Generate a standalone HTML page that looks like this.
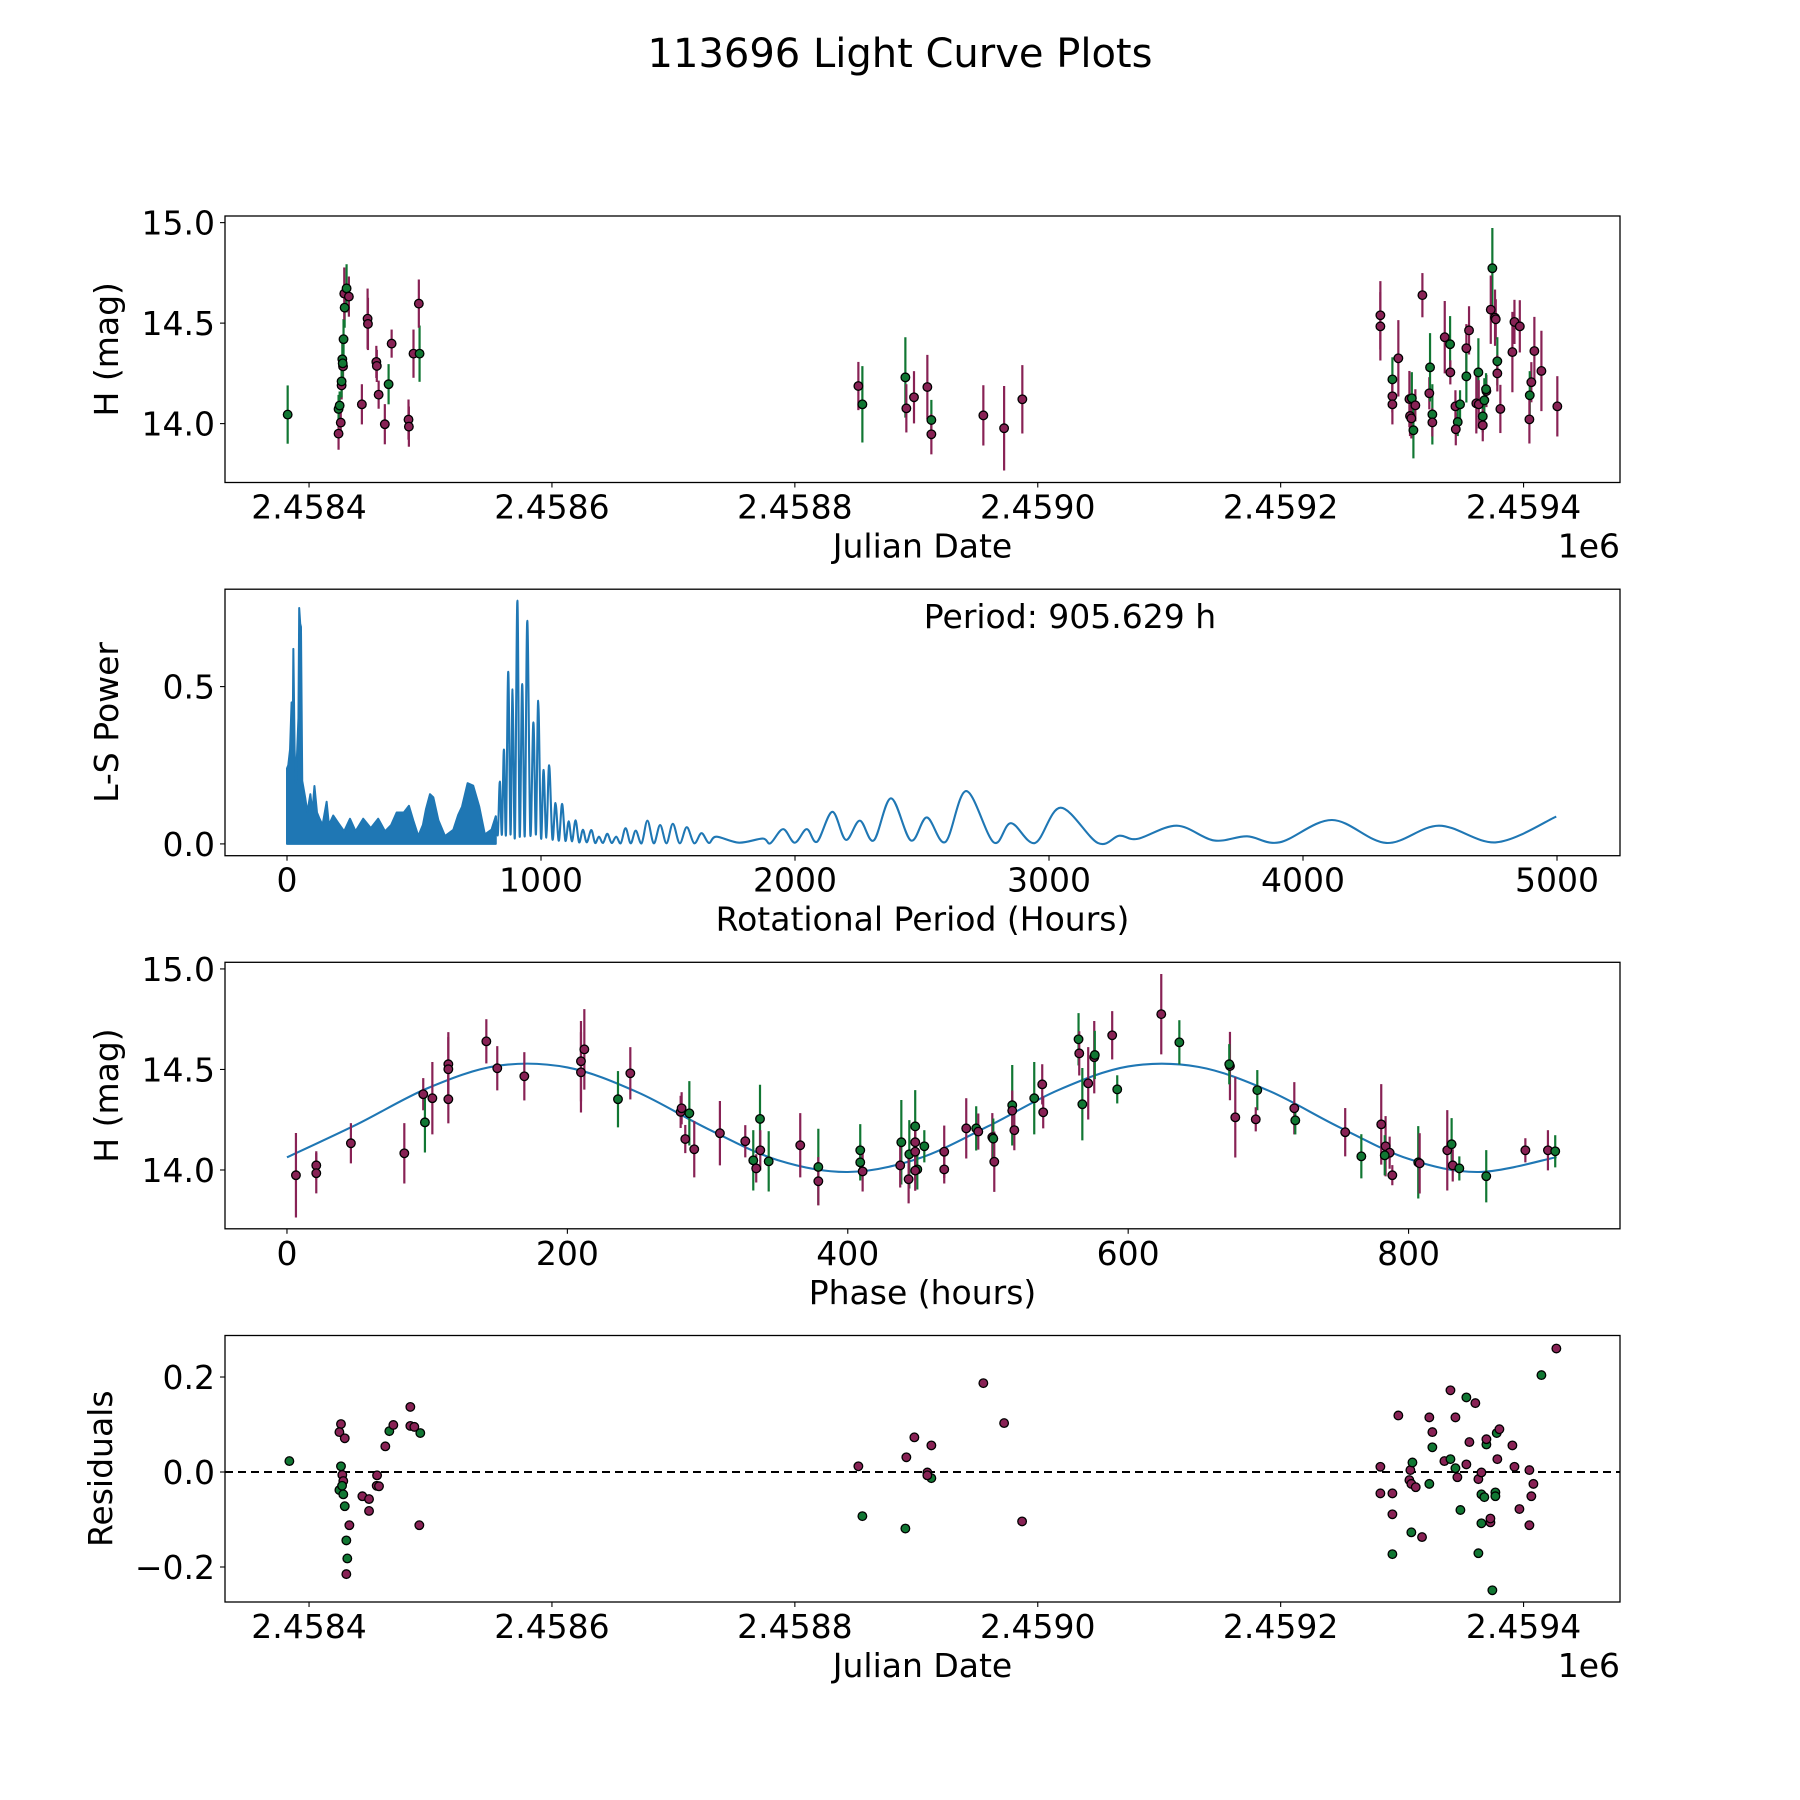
<!DOCTYPE html>
<html><head><meta charset="utf-8">
<style>
html,body{margin:0;padding:0;background:#fff;}
svg{display:block;font-family:"DejaVu Sans","Liberation Sans",sans-serif;}
</style></head>
<body>
<svg id="fig" width="1800" height="1800" viewBox="0 0 1800 1800" xmlns="http://www.w3.org/2000/svg">
<rect width="1800" height="1800" fill="#fff"/>
<text x="900" y="67" font-size="40" text-anchor="middle">113696 Light Curve Plots</text>
</svg>
<script>
// ---------- Data: panel 1 (light curve) ----------
const jd = [2458382.4,2458424.3,2458424.3,2458425.2,2458426.1,2458426.8,2458426.8,2458427.4,2458428.0,2458427.7,2458428.4,2458429.3,2458429.0,2458430.9,2458432.8,2458443.5,2458448.2,2458448.5,2458455.4,2458455.8,2458457.3,2458462.4,2458465.5,2458468.0,2458481.9,2458482.2,2458486.0,2458491.0,2458490.4,
2458852.3,2458855.6,2458891.0,2458891.8,2458898.1,2458909.1,2458912.4,2458912.4,2458955.2,2458972.3,2458987.3,
2459282.1,2459282.1,2459292.0,2459292.0,2459292.0,2459296.9,2459306.0,2459308.0,2459306.5,2459307.6,2459309.3,2459310.9,2459316.7,2459322.4,2459323.0,2459324.9,2459324.9,2459335.1,2459339.5,2459339.7,2459343.9,2459345.8,2459344.2,2459347.7,2459352.9,2459355.1,2459352.9,2459362.8,2459361.1,2459363.1,2459367.7,2459369.4,2459369.1,2459366.4,2459366.4,2459374.3,2459373.0,2459376.5,2459377.1,2459378.4,2459378.4,2459380.9,2459390.8,2459392.5,2459396.9,2459406.4,2459405.1,2459404.8,2459408.9,2459414.7,2459427.8];
const mag = [14.045,13.95,14.073,14.09,14.005,14.19,14.21,14.32,14.285,14.30,14.42,14.577,14.647,14.673,14.632,14.096,14.522,14.496,14.307,14.287,14.144,13.997,14.196,14.398,14.02,13.985,14.348,14.348,14.597,
14.187,14.096,14.23,14.076,14.131,14.182,14.018,13.947,14.041,13.977,14.121,
14.539,14.484,14.22,14.136,14.096,14.325,14.122,14.126,14.038,14.026,13.967,14.091,14.639,14.151,14.28,14.046,14.006,14.43,14.395,14.255,14.086,14.008,13.972,14.096,14.375,14.464,14.235,14.255,14.101,14.096,14.116,14.162,14.171,14.036,13.992,14.773,14.567,14.527,14.519,14.31,14.25,14.073,14.356,14.506,14.484,14.206,14.141,14.021,14.361,14.262,14.086];
const magErr = [0.145,0.08,0.07,0.07,0.07,0.07,0.08,0.1,0.1,0.08,0.1,0.1,0.13,0.12,0.1,0.1,0.15,0.13,0.08,0.08,0.07,0.1,0.1,0.07,0.1,0.1,0.12,0.14,0.12,
0.12,0.19,0.2,0.12,0.13,0.16,0.1,0.1,0.15,0.21,0.17,
0.17,0.17,0.11,0.08,0.1,0.19,0.14,0.13,0.1,0.1,0.14,0.08,0.11,0.08,0.17,0.15,0.07,0.18,0.14,0.06,0.08,0.07,0.08,0.07,0.12,0.12,0.13,0.17,0.15,0.12,0.11,0.08,0.08,0.08,0.08,0.2,0.17,0.14,0.1,0.12,0.09,0.12,0.2,0.11,0.13,0.1,0.12,0.12,0.17,0.2,0.15];
const band = "GMGGMMGGMGGGMGMMMMMMMMGMMMMGM"+"MGGMMMGMMMM"+"MMGMMMMGMMGMMMGGMMGMMGMGMMGGMMGMGGMGMMMGMMMMMMGMMMM";

// ---------- Data: panel 2 (periodogram) ----------
const denseP   = [0,5,12,18,22,25,30,35,45,48,52,55,60,72,80,92,100,108,118,128,140,156,165,182,203,225,248,270,300,330,359,386,410,432,460,480,497,517,535,547,563,576,596,622,655,674,689,711,733,757,779,805,822];
const densePow = [0.24,0.25,0.30,0.45,0.30,0.62,0.30,0.19,0.40,0.75,0.70,0.69,0.20,0.145,0.10,0.158,0.10,0.184,0.10,0.08,0.06,0.134,0.06,0.09,0.065,0.04,0.08,0.04,0.08,0.05,0.08,0.04,0.06,0.10,0.10,0.121,0.075,0.025,0.06,0.11,0.158,0.148,0.075,0.025,0.045,0.092,0.118,0.193,0.185,0.118,0.03,0.045,0.088];
const oscP   = [822,830,838,846,854,862,871,880,888,897,907,916,926,936,946,958,970,980,989,1000,1010,1021,1032,1045,1057,1070,1083,1096,1109,1122,1136,1150,1165,1180,1198,1213,1228,1244,1261,1278,1296,1314,1333,1353,1373,1396,1419,1444,1469,1494,1519,1546,1574,1603,1632,1661,1690,1780,1873,1903,1953,1999,2046,2087,2147,2200,2255,2310,2378,2456,2519,2592,2674,2782,2850,2945,3046,3192,3277,3348,3503,3649,3780,3908,4114,4328,4535,4761,4997];
const oscPow = [0.088,0.03,0.198,0.03,0.30,0.03,0.547,0.03,0.491,0.02,0.773,0.025,0.508,0.025,0.709,0.03,0.386,0.03,0.455,0.02,0.235,0.02,0.25,0.015,0.13,0.01,0.127,0.01,0.072,0.008,0.075,0.005,0.045,0.005,0.044,0.003,0.023,0.003,0.032,0.003,0.023,0.002,0.05,0.002,0.042,0.002,0.074,0.002,0.06,0.002,0.064,0.002,0.053,0.002,0.034,0.003,0.023,0.004,0.017,0.002,0.047,0.004,0.047,0.007,0.102,0.013,0.074,0.011,0.145,0.011,0.084,0.006,0.168,0.005,0.066,0.003,0.115,0.003,0.026,0.016,0.058,0.011,0.024,0.005,0.076,0.003,0.058,0.005,0.087];
const periodLabel = "Period: 905.629 h";

// ---------- Data: panel 3 (phased) ----------
const phase = [6.4,20.9,20.9,45.6,83.7,97.2,98.4,103.7,115.1,115.1,115.1,142.2,150,169.3,209.7,212.1,209.7,236.1,244.9,280.8,281.5,287,284.1,290.5,308.8,
326.9,332.6,334.7,337.4,337.6,343.6,366.1,379,379,408.9,408.9,410.6,438.2,437.4,443.9,443.4,448.1,448.1,448.1,449.6,448.1,454.6,468.8,468.8,484.5,491.6,493.1,503.1,503.8,504.5,517.3,517.3,518.8,533,538.7,539.4,564.6,565.1,567.3,571.5,575.8,576.2,588.6,592.2,623.6,636.5,
672.6,672.1,676.4,692.1,691,718.5,719.2,754.8,766.3,780.5,783.6,786.5,783,788.4,806.9,807.9,827.6,830.7,831.5,836.2,855.4,883.3,899.4,904.6];
const phMag = [13.974,14.023,13.984,14.133,14.083,14.377,14.237,14.357,14.526,14.501,14.352,14.64,14.506,14.466,14.541,14.6,14.486,14.352,14.481,14.289,14.307,14.282,14.154,14.103,14.183,
14.143,14.048,14.008,14.254,14.098,14.043,14.123,14.015,13.944,14.098,14.038,13.993,14.138,14.023,14.078,13.954,14.217,14.138,14.091,14.003,13.997,14.118,14.091,14.003,14.207,14.207,14.191,14.163,14.156,14.041,14.322,14.295,14.198,14.357,14.426,14.287,14.65,14.58,14.327,14.431,14.561,14.572,14.67,14.401,14.775,14.635,
14.517,14.526,14.262,14.397,14.252,14.307,14.247,14.188,14.068,14.227,14.118,14.086,14.073,13.974,14.038,14.033,14.098,14.128,14.023,14.008,13.969,14.098,14.098,14.093];
const phErr = [0.21,0.07,0.1,0.1,0.15,0.08,0.15,0.18,0.16,0.16,0.12,0.11,0.11,0.12,0.2,0.2,0.2,0.14,0.13,0.08,0.08,0.16,0.07,0.14,0.16,
0.08,0.15,0.07,0.17,0.1,0.15,0.16,0.19,0.12,0.13,0.09,0.1,0.21,0.11,0.17,0.12,0.18,0.1,0.14,0.1,0.1,0.08,0.13,0.07,0.15,0.11,0.09,0.12,0.1,0.15,0.2,0.1,0.1,0.18,0.1,0.08,0.13,0.11,0.18,0.18,0.18,0.12,0.12,0.07,0.2,0.11,
0.17,0.1,0.2,0.1,0.06,0.13,0.07,0.12,0.11,0.2,0.15,0.08,0.1,0.05,0.18,0.15,0.2,0.13,0.08,0.06,0.13,0.06,0.1,0.08];
const phBand = "MMMMMMGMMMMMMMMMMGMMMGMMM"+"MGMGMGMGMGGMGMGMGMMGMGMMMGMMGMGMMGMMGMGMMGMGMGMGM"+"GMMGMGMMMGMGMMGMGGMMGGMM";
const modelPh  = [0,50,100,150,200,250,300,350,400,450,500,550,600,650,700,750,800,850,905.6];
const modelMag = [14.063,14.227,14.406,14.518,14.510,14.387,14.205,14.049,13.99,14.056,14.217,14.397,14.515,14.513,14.395,14.215,14.055,13.99,14.064];

// ---------- Data: panel 4 (residuals) ----------
const resJd = [2458383.8,2458426.3,2458425.0,2458429.4,2458426.3,2458427.4,2458428.2,2458425.0,2458427.2,2458428.2,2458429.4,2458433.2,2458430.7,2458431.5,2458430.7,2458443.9,2458449.4,2458449.4,2458456.0,2458455.7,2458457.6,2458462.8,2458466.1,2458469.4,2458483.4,2458483.4,2458486.7,2458491.6,2458490.8,
2458852.3,2458855.6,2458891.8,2458891.0,2458898.4,2458909.1,2458912.4,2458909.1,2458912.4,2458955.2,2458972.3,2458987.1,
2459282.1,2459282.1,2459292.0,2459292.0,2459292.0,2459296.9,2459306.8,2459308.5,2459306.0,2459307.6,2459311.2,2459307.6,2459316.4,2459322.4,2459324.9,2459324.9,2459322.4,2459334.8,2459339.8,2459339.8,2459343.9,2459343.9,2459345.5,2459348.0,2459352.9,2459360.3,2459355.4,2459352.9,2459362.8,2459365.3,2459365.3,2459367.7,2459365.3,2459362.8,2459369.4,2459369.4,2459372.7,2459372.7,2459374.3,2459377.9,2459380.1,2459378.4,2459376.8,2459376.8,2459390.8,2459392.5,2459396.6,2459404.8,2459408.1,2459406.4,2459404.8,2459414.7,2459427.0];
const resVal = [0.023,0.101,0.084,0.071,0.012,-0.006,-0.019,-0.038,-0.029,-0.047,-0.072,-0.112,-0.144,-0.182,-0.215,-0.051,-0.057,-0.082,-0.007,-0.029,-0.030,0.054,0.086,0.099,0.137,0.097,0.095,0.082,-0.112,
0.012,-0.093,0.031,-0.119,0.073,-0.001,-0.013,-0.007,0.056,0.187,0.103,-0.104,
0.011,-0.045,-0.045,-0.089,-0.173,0.119,0.004,0.020,-0.017,-0.025,-0.032,-0.127,-0.137,0.115,0.084,0.052,-0.025,0.023,0.027,0.172,0.115,0.008,-0.011,-0.080,0.157,0.145,0.063,0.016,-0.015,-0.001,-0.047,-0.053,-0.108,-0.171,0.058,0.069,-0.106,-0.098,-0.249,0.082,0.090,0.027,-0.043,-0.051,0.056,0.011,-0.078,0.004,-0.025,-0.051,-0.112,0.204,0.260];
const resBand = "GMMMGMMGGGGMGGMMMMMMMMGMMMMGM"+"MGMGMMGMMMMM"+"MMMMGMMGMMMGMMMGGMGMMGMGGMMMMMGGGGGMMMGGMMGGMMMMMMMGMM";

const xTicksJd = [2458400,2458600,2458800,2459000,2459200,2459400];
const xTickLabelsJd = ["2.4584","2.4586","2.4588","2.4590","2.4592","2.4594"];
const yTicksMag = [14.0,14.5,15.0];
const yTickLabelsMag = ["14.0","14.5","15.0"];
const xTicksP = [0,1000,2000,3000,4000,5000];
const yTicksPow = [0.0,0.5];
const yTickLabelsPow = ["0.0","0.5"];
const xTicksPh = [0,200,400,600,800];
const yTicksRes = [-0.2,0.0,0.2];
const yTickLabelsRes = ["\u22120.2","0.0","0.2"];

// ---------- rendering ----------
const NS = "http://www.w3.org/2000/svg";
const svg = document.getElementById("fig");
const COL = {M:"#882255", G:"#117733"};
function mk(tag, attrs, parent){
  const e = document.createElementNS(NS, tag);
  for (const k in attrs) e.setAttribute(k, attrs[k]);
  (parent||svg).appendChild(e);
  return e;
}
function lin(d0,d1,r0,r1){ return v => r0 + (v-d0)/(d1-d0)*(r1-r0); }
const L = 225, W = 1395, H = 266.5;
const tops = [216, 589.2, 962.3, 1335.5];
const FS = 33;

function axesFrame(i, name){
  const g = mk("g", {});
  
  
  return g;
}
function frameRect(g, top){
  const r = mk("rect", {x:L, y:top, width:W, height:H, fill:"none", stroke:"#000", "stroke-width":1.3}, g);
  
  
}
function xTicks(g, top, sx, ticks, labels){
  ticks.forEach((t,i)=>{
    const x = sx(t), y = top+H;
    mk("line", {x1:x, x2:x, y1:y, y2:y+5, stroke:"#000", "stroke-width":1.1}, g);
    const tx = mk("text", {x:x, y:y+36, "font-size":FS, "text-anchor":"middle"}, g);
    
    
    tx.textContent = labels[i];
  });
}
function yTicks(g, sy, ticks, labels){
  ticks.forEach((t,i)=>{
    const y = sy(t);
    mk("line", {x1:L-5, x2:L, y1:y, y2:y, stroke:"#000", "stroke-width":1.1}, g);
    const tx = mk("text", {x:L-10, y:y+12, "font-size":FS, "text-anchor":"end"}, g);
    
    
    tx.textContent = labels[i];
  });
}
function labels(g, top, xl, yl, yx, showExp){
  const a = mk("text", {x:L+W/2, y:top+H+75, "font-size":FS, "text-anchor":"middle"}, g);
  
  
  a.textContent = xl;
  const cy = top+H/2;
  const b = mk("text", {x:yx, y:cy, "font-size":FS, "text-anchor":"middle", transform:`rotate(-90 ${yx} ${cy})`}, g);
  
  
  b.textContent = yl;
  if (showExp){
    const c = mk("text", {x:L+W, y:top+H+75, "font-size":FS, "text-anchor":"end"}, g);
    
    
    c.textContent = "1e6";
  }
}
function clip(id, top){
  const cp = mk("clipPath", {id:id});
  mk("rect", {x:L, y:top, width:W, height:H}, cp);
}
function catmull(pts){
  let d = `M${pts[0][0]},${pts[0][1]}`;
  for (let i=0;i<pts.length-1;i++){
    const p0 = pts[i-1]||pts[i], p1 = pts[i], p2 = pts[i+1], p3 = pts[i+2]||p2;
    const c1x = p1[0]+(p2[0]-p0[0])/6, c1y = p1[1]+(p2[1]-p0[1])/6;
    const c2x = p2[0]-(p3[0]-p1[0])/6, c2y = p2[1]-(p3[1]-p1[1])/6;
    d += ` C${c1x},${c1y} ${c2x},${c2y} ${p2[0]},${p2[1]}`;
  }
  return d;
}
function scatter(g, xs, ys, errs, bands, sx, sy, nameBar, nameDot){
  if (errs){
    xs.forEach((v,i)=>{
      const ln = mk("line", {x1:sx(v), x2:sx(v), y1:sy(ys[i]-errs[i]), y2:sy(ys[i]+errs[i]), stroke:COL[bands[i]], "stroke-width":2.2}, g);
      
      
    });
  }
  xs.forEach((v,i)=>{
    const c = mk("circle", {cx:sx(v), cy:sy(ys[i]), r:4.3, fill:COL[bands[i]], stroke:"#000", "stroke-width":1.3}, g);
    
    
  });
}

// Panel 1
{
  const top = tops[0];
  const g = axesFrame(0, 'light-curve-panel');
  const sx = lin(2458330.8, 2459479.4, L, L+W);
  const sy = lin(13.707, 15.033, top+H, top);
  clip("c1", top);
  const pg = mk("g", {"clip-path":"url(#c1)"}, g);
  scatter(pg, jd, mag, magErr, band, sx, sy, 'magnitude-error-bar', 'magnitude-point');
  frameRect(g, top);
  xTicks(g, top, sx, xTicksJd, xTickLabelsJd);
  yTicks(g, sy, yTicksMag, yTickLabelsMag);
  labels(g, top, "Julian Date", "H (mag)", 118, true);
}
// Panel 2
{
  const top = tops[1];
  const g = axesFrame(1, 'periodogram-panel');
  const sx = lin(-244.1, 5248, L, L+W);
  const sy = lin(-0.0375, 0.8096, top+H, top);
  clip("c2", top);
  const pg = mk("g", {"clip-path":"url(#c2)"}, g);
  let d = `M${sx(denseP[0])},${sy(0)}`;
  denseP.forEach((p,i)=>{ d += ` L${sx(p)},${sy(densePow[i])}`; });
  d += ` L${sx(denseP[denseP.length-1])},${sy(0)} Z`;
  const dense = mk("path", {d:d, fill:"#1f77b4", stroke:"#1f77b4", "stroke-width":2, "stroke-linejoin":"round"}, pg);
  
  
  const pts = oscP.map((p,i)=>[sx(p), sy(oscPow[i])]);
  const line = mk("path", {d:catmull(pts), fill:"none", stroke:"#1f77b4", "stroke-width":2.1}, pg);
  
  
  frameRect(g, top);
  xTicks(g, top, sx, xTicksP, xTicksP.map(String));
  yTicks(g, sy, yTicksPow, yTickLabelsPow);
  labels(g, top, "Rotational Period (Hours)", "L-S Power", 118, false);
  const t = mk("text", {x:1070, y:top+39, "font-size":FS, "text-anchor":"middle"}, g);
  
  
  t.textContent = periodLabel;
}
// Panel 3
{
  const top = tops[2];
  const g = axesFrame(2, 'phased-curve-panel');
  const sx = lin(-44.2, 950.8, L, L+W);
  const sy = lin(13.7075, 15.033, top+H, top);
  clip("c3", top);
  const pg = mk("g", {"clip-path":"url(#c3)"}, g);
  const mpts = modelPh.map((p,i)=>[sx(p), sy(modelMag[i])]);
  const m = mk("path", {d:catmull(mpts), fill:"none", stroke:"#1f77b4", "stroke-width":2.1}, pg);
  
  
  scatter(pg, phase, phMag, phErr, phBand, sx, sy, 'phased-error-bar', 'phased-point');
  frameRect(g, top);
  xTicks(g, top, sx, xTicksPh, xTicksPh.map(String));
  yTicks(g, sy, yTicksMag, yTickLabelsMag);
  labels(g, top, "Phase (hours)", "H (mag)", 118, false);
}
// Panel 4
{
  const top = tops[3];
  const g = axesFrame(3, 'residuals-panel');
  const sx = lin(2458330.8, 2459479.4, L, L+W);
  const sy = lin(-0.2737, 0.2874, top+H, top);
  clip("c4", top);
  const pg = mk("g", {"clip-path":"url(#c4)"}, g);
  const z = mk("line", {x1:L, x2:L+W, y1:sy(0), y2:sy(0), stroke:"#000", "stroke-width":2, "stroke-dasharray":"8,5"}, pg);
  
  
  scatter(pg, resJd, resVal, null, resBand, sx, sy, 'residual-bar', 'residual-point');
  frameRect(g, top);
  xTicks(g, top, sx, xTicksJd, xTickLabelsJd);
  yTicks(g, sy, yTicksRes, yTickLabelsRes);
  labels(g, top, "Julian Date", "Residuals", 112, true);
}
</script>
</body></html>
